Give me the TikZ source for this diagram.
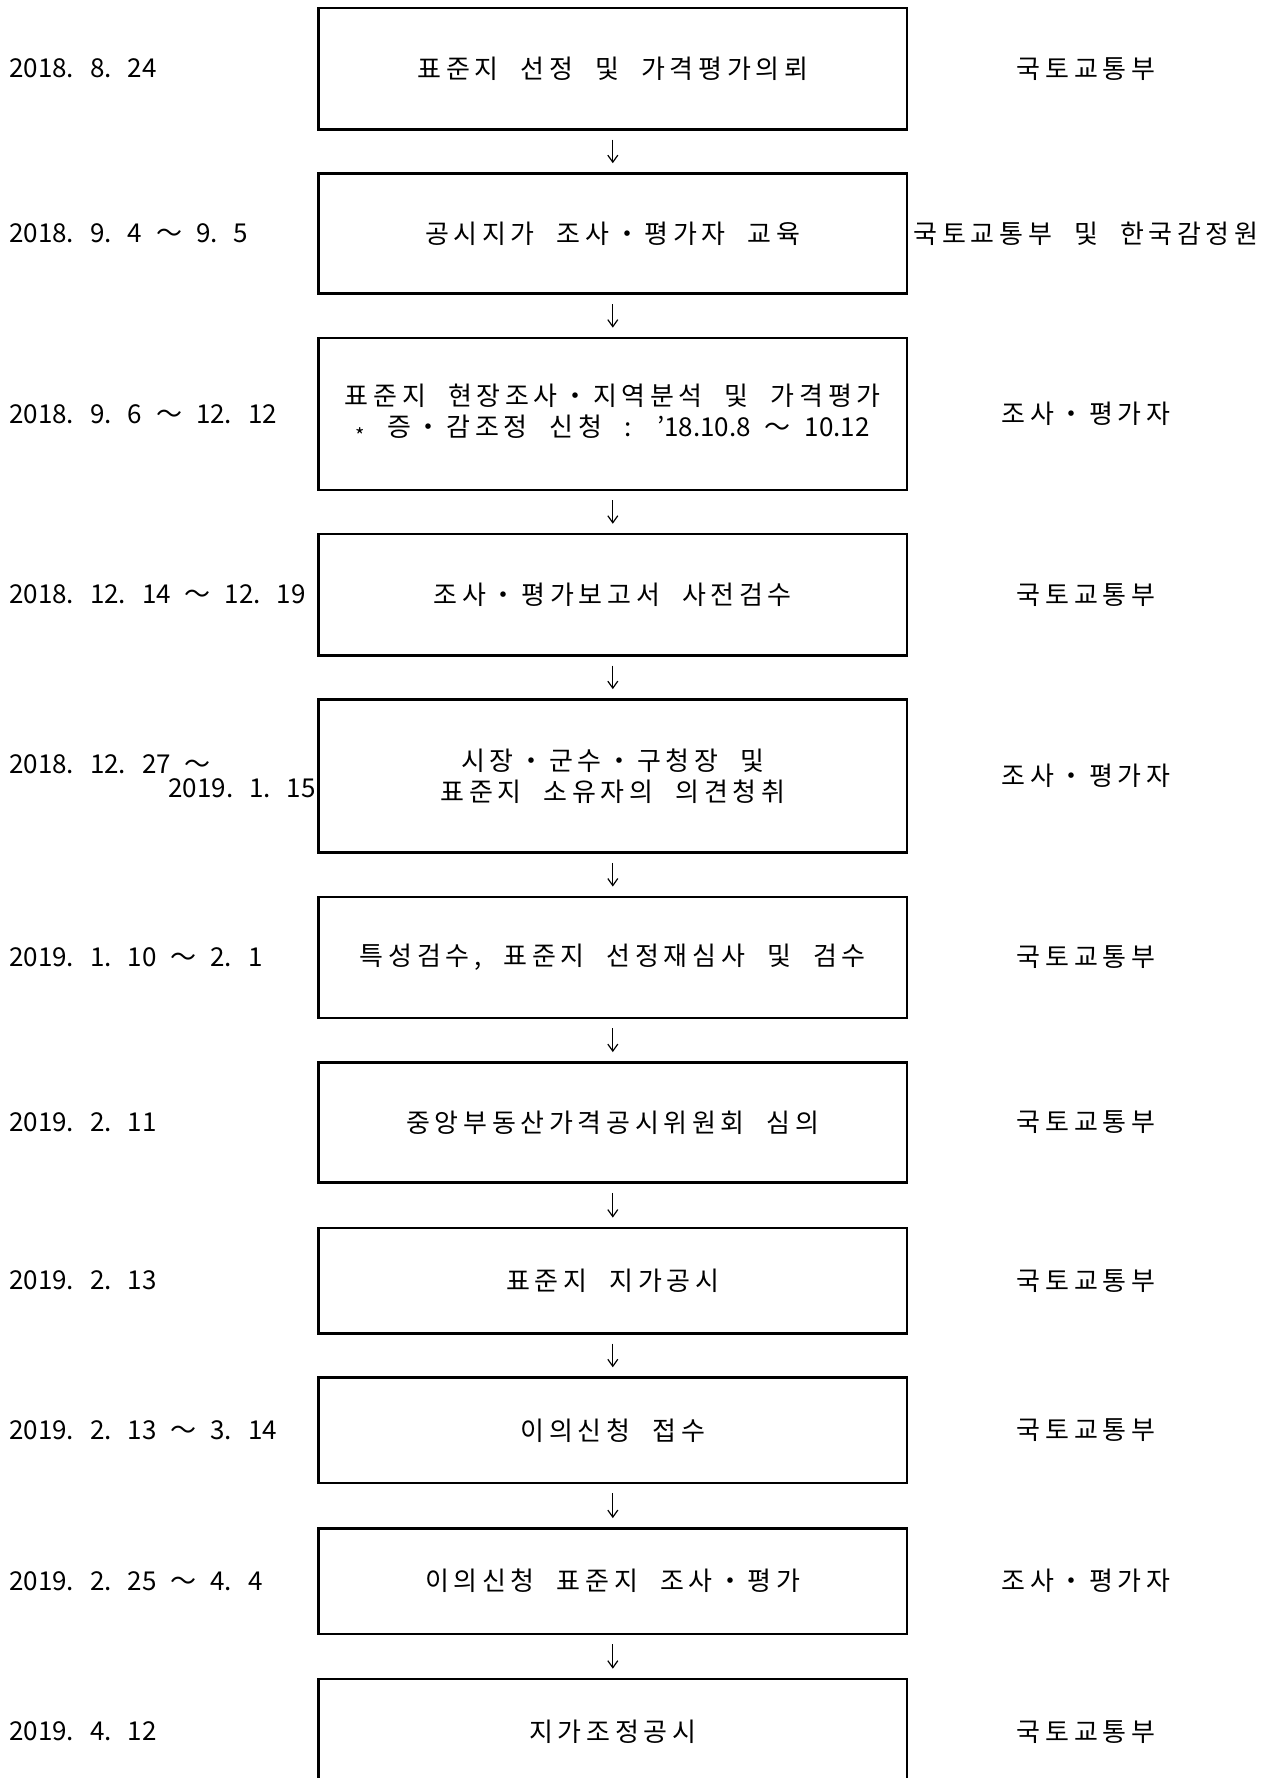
\documentclass[tikz,border=0pt]{standalone}
\usepackage{fontspec}
\setmainfont{Noto Sans CJK KR}[LetterSpace=18, WordSpace=2.1]
\newfontfamily\datefont{Noto Sans CJK KR}[WordSpace=2.4]
\newcommand\mainsize{\fontsize{26}{31.5}\selectfont}
\newcommand\datesize{\datefont\fontsize{26}{28}\selectfont}
\newcommand\smallstar{\raisebox{-7pt}{\fontsize{20}{20}\selectfont *}}
\usetikzlibrary{arrows.meta}
\begin{document}
\begin{tikzpicture}[x=1pt,y=-1pt,
  every node/.style={font=\mainsize, inner sep=0pt},
  box/.style={draw, line width=2.6pt, minimum width=588.4pt, align=center},
  date/.style={anchor=west, font=\datesize},
  org/.style={},
  flow/.style={line width=1.2pt, -{Straight Barb[length=7pt,width=10pt]}, shorten <=9pt, shorten >=9pt}]
\fill[white] (0,0) rectangle (1271,1778);
\useasboundingbox (0,0) rectangle (1271,1778);
\clip (0,0) rectangle (1271,1778);
% boxes
\node[box, minimum height=121.4pt] (b1) at (612.8,68.6) {표준지 선정 및 가격평가의뢰};
\node[box, minimum height=120.2pt] (b2) at (612.8,233.6) {공시지가 조사・평가자 교육};
\node[box, minimum height=151.9pt] (b3) at (612.8,413.9) {표준지 현장조사・지역분석 및 가격평가\\\smallstar{} 증・감조정 신청 : {\datefont ’18.10.8 ～ 10.12}};
\node[box, minimum height=121.3pt] (b4) at (612.8,594.7) {조사・평가보고서 사전검수};
\node[box, minimum height=153.1pt] (b5) at (612.8,776) {시장・군수・구청장 및\\표준지 소유자의 의견청취};
\node[box, minimum height=121.3pt] (b6) at (612.8,957.5) {특성검수, 표준지 선정재심사 및 검수};
\node[box, minimum height=120.2pt] (b7) at (612.8,1122.5) {중앙부동산가격공시위원회 심의};
\node[box, minimum height=105.4pt] (b8) at (612.8,1280.6) {표준지 지가공시};
\node[box, minimum height=105.4pt] (b9) at (612.8,1430.3) {이의신청 접수};
\node[box, minimum height=105.4pt] (b10) at (612.8,1581.1) {이의신청 표준지 조사・평가};
\node[box, minimum height=105.4pt] (b11) at (612.8,1731.7) {지가조정공시};
% arrows
\draw[flow] (b1) -- (b2);
\draw[flow] (b2) -- (b3);
\draw[flow] (b3) -- (b4);
\draw[flow] (b4) -- (b5);
\draw[flow] (b5) -- (b6);
\draw[flow] (b6) -- (b7);
\draw[flow] (b7) -- (b8);
\draw[flow] (b8) -- (b9);
\draw[flow] (b9) -- (b10);
\draw[flow] (b10) -- (b11);
% dates
\node[date] (d1) at (9,68.6) {2018. 8. 24};
\node[date] (d2) at (9,233.6) {2018. 9. 4 ～ 9. 5};
\node[date] (d3) at (9,413.9) {2018. 9. 6 ～ 12. 12};
\node[date] (d4) at (9,594.7) {2018. 12. 14 ～ 12. 19};
\node[date] (d5a) at (9,764) {2018. 12. 27 ～};
\node[date, anchor=east] (d5b) at (316,788) {2019. 1. 15};
\node[date] (d6) at (9,957.5) {2019. 1. 10 ～ 2. 1};
\node[date] (d7) at (9,1122.5) {2019. 2. 11};
\node[date] (d8) at (9,1280.6) {2019. 2. 13};
\node[date] (d9) at (9,1430.3) {2019. 2. 13 ～ 3. 14};
\node[date] (d10) at (9,1581.1) {2019. 2. 25 ～ 4. 4};
\node[date] (d11) at (9,1731.7) {2019. 4. 12};
% organisations
\node[org] (o1) at (1086,68.6) {국토교통부};
\node[org] (o2) at (1086,233.6) {국토교통부 및 한국감정원};
\node[org] (o3) at (1086,413.9) {조사・평가자};
\node[org] (o4) at (1086,594.7) {국토교통부};
\node[org] (o5) at (1086,776) {조사・평가자};
\node[org] (o6) at (1086,957.5) {국토교통부};
\node[org] (o7) at (1086,1122.5) {국토교통부};
\node[org] (o8) at (1086,1280.6) {국토교통부};
\node[org] (o9) at (1086,1430.3) {국토교통부};
\node[org] (o10) at (1086,1581.1) {조사・평가자};
\node[org] (o11) at (1086,1731.7) {국토교통부};
\end{tikzpicture}
\end{document}
